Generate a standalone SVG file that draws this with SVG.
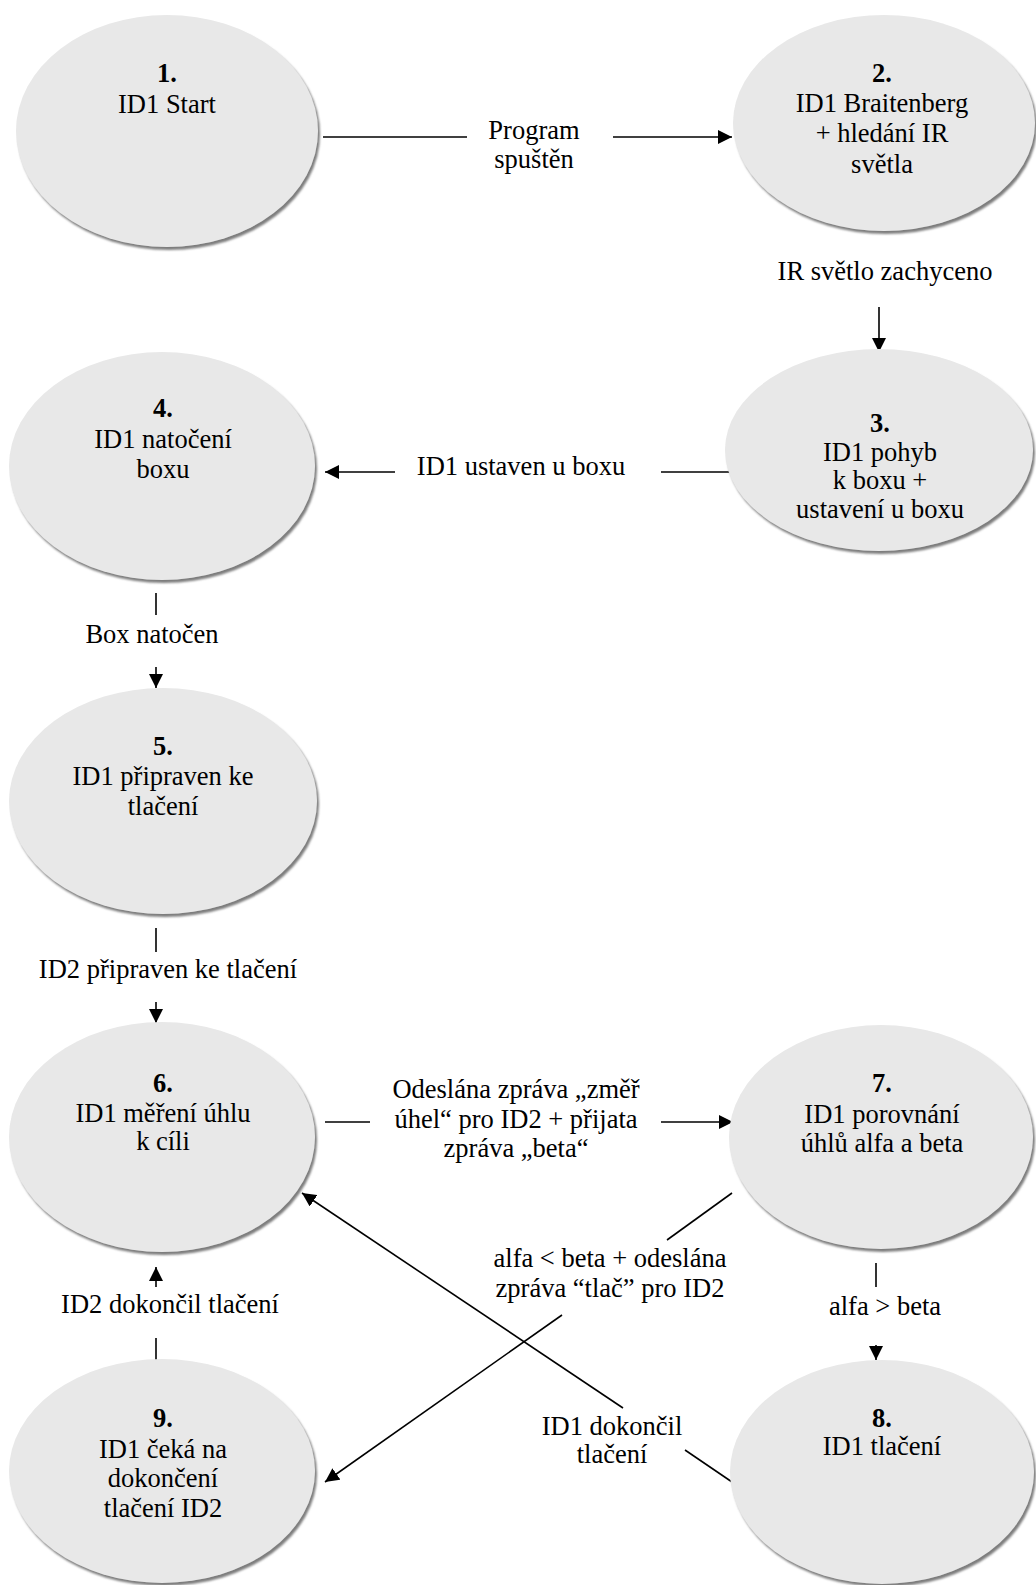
<svg xmlns="http://www.w3.org/2000/svg" width="1036" height="1585" viewBox="0 0 1036 1585">
  <style>
    .node { fill: #e8e8e8; filter: url(#shadow); }
    text { font-family: "Liberation Serif", "Times New Roman", serif; font-size: 26.5px; fill: #000; text-anchor: middle; }
    .num { font-weight: bold; }
    .edge { stroke: #000; stroke-width: 1.6; fill: none; }
    .arrow { marker-end: url(#head); }
  </style>
  <defs>
    <filter id="shadow" x="-5%" y="-5%" width="112%" height="115%">
      <feGaussianBlur in="SourceAlpha" stdDeviation="1.2"/>
      <feOffset dx="2" dy="2.5" result="off"/>
      <feFlood flood-color="#7d7d7d"/>
      <feComposite in2="off" operator="in"/>
      <feMerge>
        <feMergeNode/>
        <feMergeNode in="SourceGraphic"/>
      </feMerge>
    </filter>
    <marker id="head" viewBox="0 0 14 14" refX="14" refY="7" markerWidth="14" markerHeight="14" markerUnits="userSpaceOnUse" orient="auto">
      <path d="M0,0 L14,7 L0,14 Z" fill="#000"/>
    </marker>
  </defs>

  <!-- connectors -->
  <g id="connectors">
    <line class="edge" x1="323" y1="137" x2="467" y2="137"/>
    <line class="edge arrow" x1="613" y1="137" x2="732" y2="137"/>

    <line class="edge arrow" x1="879" y1="307" x2="879" y2="352"/>

    <line class="edge" x1="733" y1="472" x2="661" y2="472"/>
    <line class="edge arrow" x1="395" y1="472" x2="325" y2="472"/>

    <line class="edge" x1="156" y1="593" x2="156" y2="615"/>
    <line class="edge arrow" x1="156" y1="667" x2="156" y2="688"/>

    <line class="edge" x1="156" y1="928" x2="156" y2="952"/>
    <line class="edge arrow" x1="156" y1="1002" x2="156" y2="1023"/>

    <line class="edge" x1="325" y1="1122" x2="370" y2="1122"/>
    <line class="edge arrow" x1="661" y1="1122" x2="733" y2="1122"/>

    <line class="edge" x1="876" y1="1263" x2="876" y2="1287"/>
    <line class="edge arrow" x1="876" y1="1345" x2="876" y2="1360"/>

    <line class="edge" x1="732" y1="1193" x2="667" y2="1240"/>
    <line class="edge arrow" x1="562" y1="1315" x2="325" y2="1482"/>

    <line class="edge" x1="732" y1="1482" x2="685" y2="1450"/>
    <line class="edge arrow" x1="623" y1="1408" x2="302" y2="1193"/>

    <line class="edge" x1="156" y1="1362" x2="156" y2="1338"/>
    <line class="edge arrow" x1="156" y1="1287" x2="156" y2="1267"/>

    <!-- transition labels -->
    <text x="534" y="139">Program</text>
    <text x="534" y="168">spuštěn</text>
    <text x="885" y="280">IR světlo zachyceno</text>
    <text x="521" y="475">ID1 ustaven u boxu</text>
    <text x="152" y="643">Box natočen</text>
    <text x="168" y="978">ID2 připraven ke tlačení</text>
    <text x="516" y="1098">Odeslána zpráva „změř</text>
    <text x="516" y="1128">úhel“ pro ID2 + přijata</text>
    <text x="516" y="1157">zpráva „beta“</text>
    <text x="610" y="1267">alfa &lt; beta + odeslána</text>
    <text x="610" y="1297">zpráva “tlač” pro ID2</text>
    <text x="885" y="1315">alfa &gt; beta</text>
    <text x="170" y="1313">ID2 dokončil tlačení</text>
    <text x="612" y="1435">ID1 dokončil</text>
    <text x="612" y="1463">tlačení</text>
  </g>

  <g id="node1">
    <ellipse class="node" cx="167" cy="131" rx="151" ry="116"/>
    <text class="num" x="167" y="82">1.</text>
    <text x="167" y="113">ID1 Start</text>
  </g>

  <g id="node2">
    <ellipse class="node" cx="884" cy="123" rx="151" ry="108"/>
    <text class="num" x="882" y="82">2.</text>
    <text x="882" y="112">ID1 Braitenberg</text>
    <text x="882" y="142">+ hledání IR</text>
    <text x="882" y="173">světla</text>
  </g>

  <g id="node3">
    <ellipse class="node" cx="879" cy="450" rx="154" ry="101"/>
    <text class="num" x="880" y="432">3.</text>
    <text x="880" y="461">ID1 pohyb</text>
    <text x="880" y="489">k boxu +</text>
    <text x="880" y="518">ustavení u boxu</text>
  </g>

  <g id="node4">
    <ellipse class="node" cx="162" cy="466" rx="153" ry="114"/>
    <text class="num" x="163" y="417">4.</text>
    <text x="163" y="448">ID1 natočení</text>
    <text x="163" y="478">boxu</text>
  </g>

  <g id="node5">
    <ellipse class="node" cx="163" cy="801" rx="154" ry="113"/>
    <text class="num" x="163" y="755">5.</text>
    <text x="163" y="785">ID1 připraven ke</text>
    <text x="163" y="815">tlačení</text>
  </g>

  <g id="node6">
    <ellipse class="node" cx="162" cy="1137" rx="153" ry="115"/>
    <text class="num" x="163" y="1092">6.</text>
    <text x="163" y="1122">ID1 měření úhlu</text>
    <text x="163" y="1150">k cíli</text>
  </g>

  <g id="node7">
    <ellipse class="node" cx="881" cy="1137" rx="152" ry="112"/>
    <text class="num" x="882" y="1092">7.</text>
    <text x="882" y="1123">ID1 porovnání</text>
    <text x="882" y="1152">úhlů alfa a beta</text>
  </g>

  <g id="node8">
    <ellipse class="node" cx="882" cy="1472" rx="152" ry="112"/>
    <text class="num" x="882" y="1427">8.</text>
    <text x="882" y="1455">ID1 tlačení</text>
  </g>

  <g id="node9">
    <ellipse class="node" cx="162" cy="1471" rx="153" ry="112"/>
    <text class="num" x="163" y="1427">9.</text>
    <text x="163" y="1458">ID1 čeká na</text>
    <text x="163" y="1487">dokončení</text>
    <text x="163" y="1517">tlačení ID2</text>
  </g>
</svg>
